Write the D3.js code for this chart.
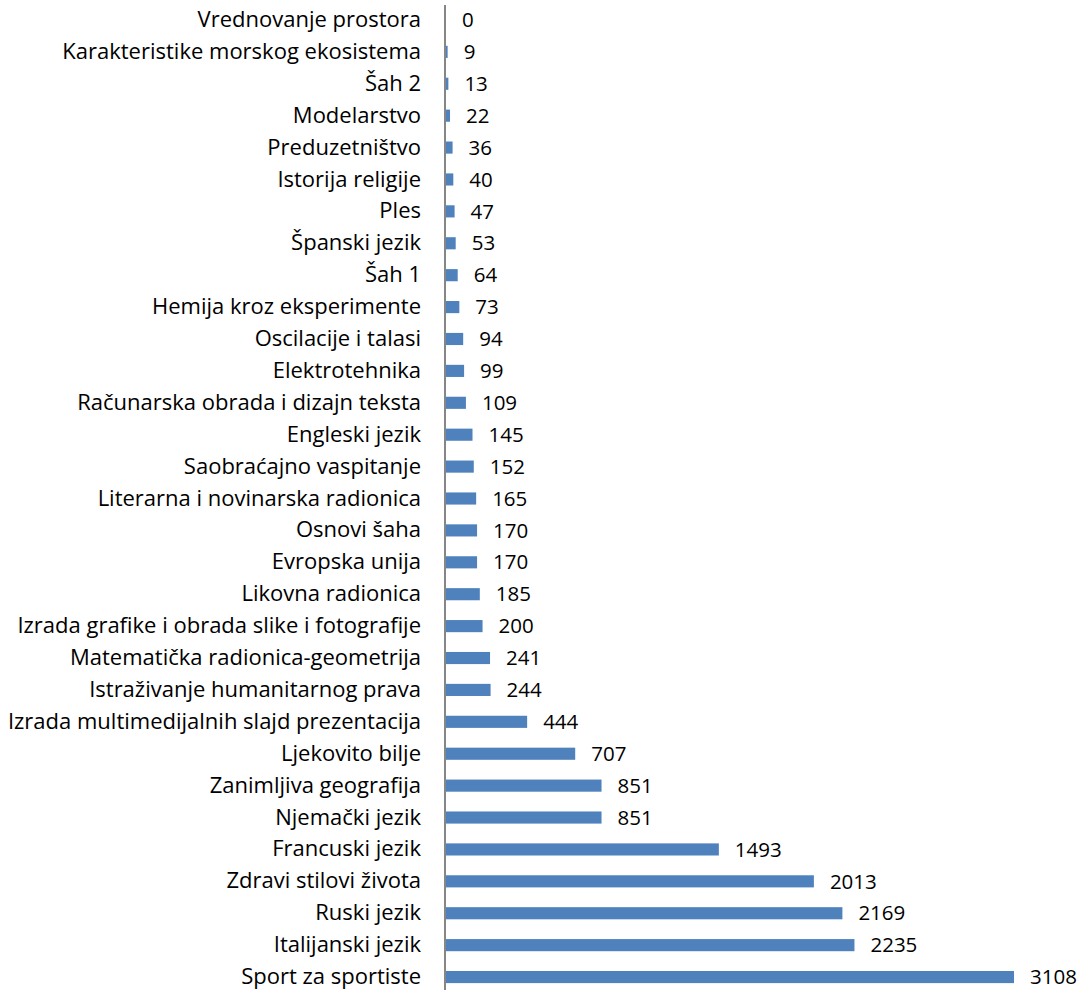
<!DOCTYPE html>
<html>
<head>
<style>
  body { margin: 0; background: #fff; }
  text { font-family: "Open Sans", "Noto Sans", sans-serif; }
</style>
</head>
<body>
<script src="https://d3js.org/d3.v7.min.js"></script>
<script>
    var categories = [
        "Vrednovanje prostora", "Karakteristike morskog ekosistema", "Šah 2", "Modelarstvo",
        "Preduzetništvo", "Istorija religije", "Ples", "Španski jezik", "Šah 1",
        "Hemija kroz eksperimente", "Oscilacije i talasi", "Elektrotehnika ",
        "Računarska obrada i dizajn teksta", "Engleski jezik", "Saobraćajno vaspitanje",
        "Literarna i novinarska radionica", "Osnovi šaha", "Evropska unija", "Likovna radionica",
        "Izrada grafike i obrada slike i fotografije", "Matematička radionica-geometrija",
        "Istraživanje humanitarnog prava", "Izrada multimedijalnih slajd prezentacija",
        "Ljekovito bilje", "Zanimljiva geografija", "Njemački jezik", "Francuski jezik",
        "Zdravi stilovi života", "Ruski jezik", "Italijanski jezik", "Sport za sportiste"
    ];
    var values = [0, 9, 13, 22, 36, 40, 47, 53, 64, 73, 94, 99, 109, 145, 152, 165, 170, 170,
        185, 200, 241, 244, 444, 707, 851, 851, 1493, 2013, 2169, 2235, 3108];

    var data = categories.map(function(c, i) { return { name: c, value: values[i] }; });

    var width = 1086, height = 990;
    var axisX = 446;

    var svg = d3.select("body").append("svg")
        .attr("width", width)
        .attr("height", height);

    var x = d3.scaleLinear()
        .domain([0, 3108])
        .range([axisX, 1014]);

    var y = d3.scaleBand()
        .domain(categories)
        .range([4, 993])
        .paddingInner(0.62)
        .paddingOuter(0.31);

    // bars
    svg.append("g").selectAll("rect").data(data)
        .enter().append("rect")
        .attr("x", x(0))
        .attr("y", function(d) { return y(d.name); })
        .attr("width", function(d) { return x(d.value) - x(0); })
        .attr("height", y.bandwidth())
        .style("fill", "#4F81BD");

    // value labels
    svg.append("g").selectAll("text").data(data)
        .enter().append("text")
        .attr("x", function(d) { return x(d.value) + 16; })
        .attr("y", function(d) { return y(d.name) + y.bandwidth() / 2; })
        .attr("dy", "0.35em")
        .style("font-size", "20.5px")
        .style("fill", "#000")
        .text(function(d) { return d.value; });

    // category axis
    var axis = svg.append("g")
        .attr("transform", "translate(" + (axisX - 1) + ",0)")
        .call(d3.axisLeft(y).tickSize(0).tickPadding(24));
    axis.select(".domain").remove();
    axis.selectAll("text")
        .style("font-size", "22px")
        .style("font-family", "'Open Sans', sans-serif")
        .style("fill", "#000");

    svg.append("line")
        .attr("x1", axisX - 1).attr("x2", axisX - 1)
        .attr("y1", 5).attr("y2", height)
        .style("stroke", "#868686")
        .style("stroke-width", 2);
</script>
</body>
</html>
